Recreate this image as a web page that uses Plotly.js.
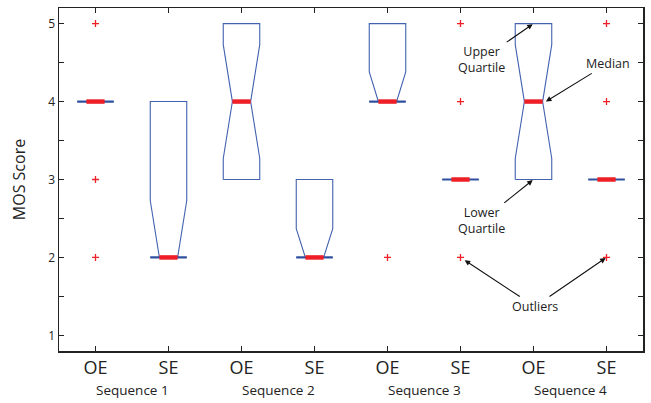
<!DOCTYPE html>
<html>
<head>
<meta charset="utf-8">
<script src="https://cdn.plot.ly/plotly-3.0.1.min.js"></script>
<style>html,body{margin:0;padding:0;background:#fff;}#chart{width:651px;height:403px;}</style>
</head>
<body>
<div id="chart"></div>
<script>
// ---- data ----
var categories = ["OE", "SE", "OE", "SE", "OE", "SE", "OE", "SE"];
var sequences = ["Sequence 1", "Sequence 2", "Sequence 3", "Sequence 4"];
var q1Values     = [4, 2, 3, 2, 4, 3, 3, 3];
var medianValues = [4, 2, 4, 2, 4, 3, 4, 3];
var q3Values     = [4, 4, 5, 3, 5, 3, 5, 3];
var notchLow     = [4, 1.27, 3.27, 1.63, 3.62, 3, 3.27, 3];
var notchHigh    = [4, 2.73, 4.73, 2.37, 4.38, 3, 4.73, 3];
var outlierBox   = [1, 1, 1, 5, 6, 6, 6, 8, 8, 8];
var outlierVals  = [5, 3, 2, 2, 5, 4, 2, 5, 4, 2];
var yTickVals = [1, 2, 3, 4, 5];

var blue = "#4262b0";
var darkBlue = "#2f4f9f";
var red = "#ee1f26";
var hw = 0.25;      // half box width
var traces = [];

for (var i = 0; i < categories.length; i++) {
  var x = i + 1;
  var q1 = q1Values[i], q3 = q3Values[i], med = medianValues[i];
  var nlo = Math.max(notchLow[i], q1), nhi = Math.min(notchHigh[i], q3);
  traces.push({
    type: "scatter", mode: "lines", hoverinfo: "skip", showlegend: false,
    x: [x - hw, x - hw, x - hw / 2, x - hw, x - hw, x + hw, x + hw, x + hw / 2, x + hw, x + hw, x - hw],
    y: [q1, nlo, med, nhi, q3, q3, nhi, med, nlo, q1, q1],
    line: {color: blue, width: 1.1}
  });
  if (med === q1 || med === q3) {
    traces.push({
      type: "scatter", mode: "lines", hoverinfo: "skip", showlegend: false,
      x: [x - hw, x + hw], y: [med, med],
      line: {color: darkBlue, width: 2.2}
    });
  }
  traces.push({
    type: "scatter", mode: "lines", hoverinfo: "skip", showlegend: false,
    x: [x - hw / 2, x + hw / 2], y: [med, med],
    line: {color: red, width: 4.5}
  });
}

traces.push({
  type: "scatter", mode: "markers", hoverinfo: "skip", showlegend: false,
  x: outlierBox, y: outlierVals,
  marker: {symbol: "cross-thin", size: 5, color: red, line: {color: red, width: 1.3}}
});

var tickPos = categories.map(function (c, i) { return i + 1; });

var annotations = [];
sequences.forEach(function (s, k) {
  annotations.push({
    text: s, x: 2 * k + 1.5, xref: "x", y: 0, yref: "paper", yshift: -39,
    showarrow: false, font: {family: "Open Sans, sans-serif", size: 13.5, color: "#222"},
    yanchor: "middle"
  });
});

var annFont = {family: "Open Sans, sans-serif", size: 12.5, color: "#222"};
function arrowAnn(text, hx, hy, tx, ty, standoff, hidden) {
  return {
    text: text, x: hx, y: hy, xref: "x", yref: "y",
    ax: tx, ay: ty, axref: "x", ayref: "y",
    showarrow: true, arrowhead: 2, arrowsize: 1, arrowwidth: 1.1, arrowcolor: "#111",
    standoff: standoff || 0,
    font: hidden ? {family: annFont.family, size: annFont.size, color: "rgba(0,0,0,0)"} : annFont
  };
}
annotations.push(arrowAnn("Upper<br>Quartile", 7, 5, 6.29, 4.54, 1));
annotations.push(arrowAnn("Median", 7.17, 4, 8.02, 4.49, 0));
annotations.push(arrowAnn("Lower<br>Quartile", 7, 3, 6.29, 2.47, 1));
annotations.push(arrowAnn("Outliers", 6, 2, 7.02, 1.37, 5));
annotations.push(arrowAnn("Outliers", 8, 2, 7.02, 1.37, 1, true));

var layout = {
  width: 651, height: 403,
  margin: {l: 59, r: 8, t: 8, b: 52},
  paper_bgcolor: "#fff", plot_bgcolor: "#fff",
  showlegend: false,
  font: {family: "Open Sans, sans-serif", color: "#222"},
  xaxis: {
    range: [0.5, 8.5], tickvals: tickPos, ticktext: categories,
    ticks: "inside", ticklen: 5, tickcolor: "#222",
    showline: true, mirror: "allticks", linecolor: "#222", linewidth: 1.5,
    showgrid: false, zeroline: false,
    tickfont: {family: "Open Sans, sans-serif", size: 18, color: "#222"}
  },
  yaxis: {
    range: [0.8, 5.2], tickvals: yTickVals,
    ticks: "inside", ticklen: 5, tickcolor: "#222",
    minor: {dtick: 0.5, ticks: "inside", ticklen: 5, tickcolor: "#222", showgrid: false},
    showline: true, mirror: "allticks", linecolor: "#222", linewidth: 1.5,
    showgrid: false, zeroline: false,
    tickfont: {family: "Open Sans, sans-serif", size: 12, color: "#222"},
    title: {text: "MOS Score", font: {family: "Open Sans, sans-serif", size: 16, color: "#222"}, standoff: 18}
  },
  annotations: annotations
};

Plotly.newPlot("chart", traces, layout, {staticPlot: true, displayModeBar: false});
</script>
</body>
</html>
